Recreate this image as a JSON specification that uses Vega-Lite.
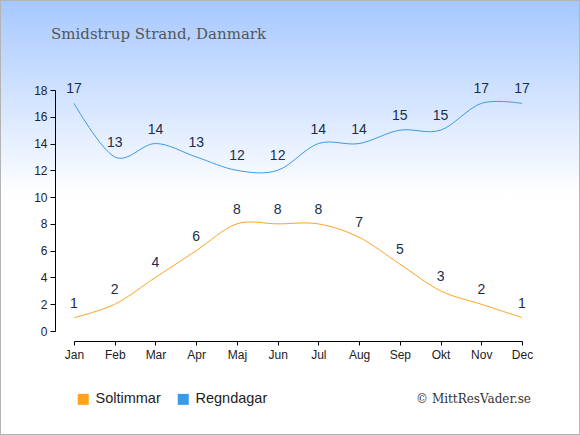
{
  "$schema": "https://vega.github.io/schema/vega-lite/v6.json",
  "width": 580,
  "height": 435,
  "autosize": {"type": "none"},
  "padding": 0,
  "background": "#ffffff",
  "title": {"text": "Smidstrup Strand, Danmark", "anchor": "start", "frame": "group", "orient": "top", "offset": 0, "dx": 51, "dy": 49, "baseline": "middle", "font": "DejaVu Serif", "fontSize": 15, "fontWeight": "normal", "color": "#555555"},
  "config": {
    "view": {"stroke": "#b4b4b4", "strokeWidth": 2, "fill": {"gradient": "linear", "x1": 0, "y1": 0, "x2": 0, "y2": 1, "stops": [{"offset": 0, "color": "#a6c8ff"}, {"offset": 0.45, "color": "#ffffff"}, {"offset": 1, "color": "#ffffff"}]}},
    "axis": {"grid": false, "domainColor": "#000000", "tickColor": "#000000", "labelColor": "#222222", "labelFont": "Liberation Sans", "labelFontSize": 12, "tickSize": 5}
  },
  "data": {"values": [
    {"month": "Jan", "serie": "Soltimmar", "v": 1}, {"month": "Feb", "serie": "Soltimmar", "v": 2}, {"month": "Mar", "serie": "Soltimmar", "v": 4}, {"month": "Apr", "serie": "Soltimmar", "v": 6}, {"month": "Maj", "serie": "Soltimmar", "v": 8}, {"month": "Jun", "serie": "Soltimmar", "v": 8}, {"month": "Jul", "serie": "Soltimmar", "v": 8}, {"month": "Aug", "serie": "Soltimmar", "v": 7}, {"month": "Sep", "serie": "Soltimmar", "v": 5}, {"month": "Okt", "serie": "Soltimmar", "v": 3}, {"month": "Nov", "serie": "Soltimmar", "v": 2}, {"month": "Dec", "serie": "Soltimmar", "v": 1},
    {"month": "Jan", "serie": "Regndagar", "v": 17}, {"month": "Feb", "serie": "Regndagar", "v": 13}, {"month": "Mar", "serie": "Regndagar", "v": 14}, {"month": "Apr", "serie": "Regndagar", "v": 13}, {"month": "Maj", "serie": "Regndagar", "v": 12}, {"month": "Jun", "serie": "Regndagar", "v": 12}, {"month": "Jul", "serie": "Regndagar", "v": 14}, {"month": "Aug", "serie": "Regndagar", "v": 14}, {"month": "Sep", "serie": "Regndagar", "v": 15}, {"month": "Okt", "serie": "Regndagar", "v": 15}, {"month": "Nov", "serie": "Regndagar", "v": 17}, {"month": "Dec", "serie": "Regndagar", "v": 17}
  ]},
  "encoding": {
    "x": {"field": "month", "type": "ordinal", "sort": null, "scale": {"type": "point", "padding": 0, "range": [74, 522]}, "axis": {"title": "© MittResVader.se", "titleFont": "DejaVu Serif", "titleFontSize": 12, "titleFontWeight": "normal", "titleColor": "#333333", "titleX": 473, "titleY": 57, "titleAlign": "center", "titleBaseline": "middle", "labelAngle": 0, "offset": -94, "labelPadding": 4, "tickSize": 4}},
    "y": {"field": "v", "type": "quantitative", "scale": {"domain": [0, 18], "range": [331, 90]}, "axis": {"title": null, "values": [0, 2, 4, 6, 8, 10, 12, 14, 16, 18], "offset": -55, "labelPadding": 3}}
  },
  "layer": [
    {"mark": {"type": "line", "interpolate": "cardinal", "strokeWidth": 1},
     "encoding": {"color": {"field": "serie", "type": "nominal", "sort": ["Soltimmar", "Regndagar"], "scale": {"domain": ["Soltimmar", "Regndagar"], "range": ["#ffa31f", "#3b9ae6"]},
       "legend": {"title": null, "orient": "none", "legendX": 76, "legendY": 392, "direction": "horizontal", "symbolType": "square", "symbolSize": 121, "symbolStrokeWidth": 0, "labelFont": "Liberation Sans", "labelFontSize": 14.5, "labelColor": "#222222", "columnPadding": 15, "labelOffset": 5,
         "encode": {"symbols": {"update": {"fill": {"scale": "color", "field": "value"}, "fillOpacity": {"value": 1}}}}}}}},
    {"mark": {"type": "text", "dy": -14, "font": "Liberation Sans", "fontSize": 14, "color": "#1c2d4c"},
     "encoding": {"text": {"field": "v", "type": "quantitative"}}}
  ]
}
